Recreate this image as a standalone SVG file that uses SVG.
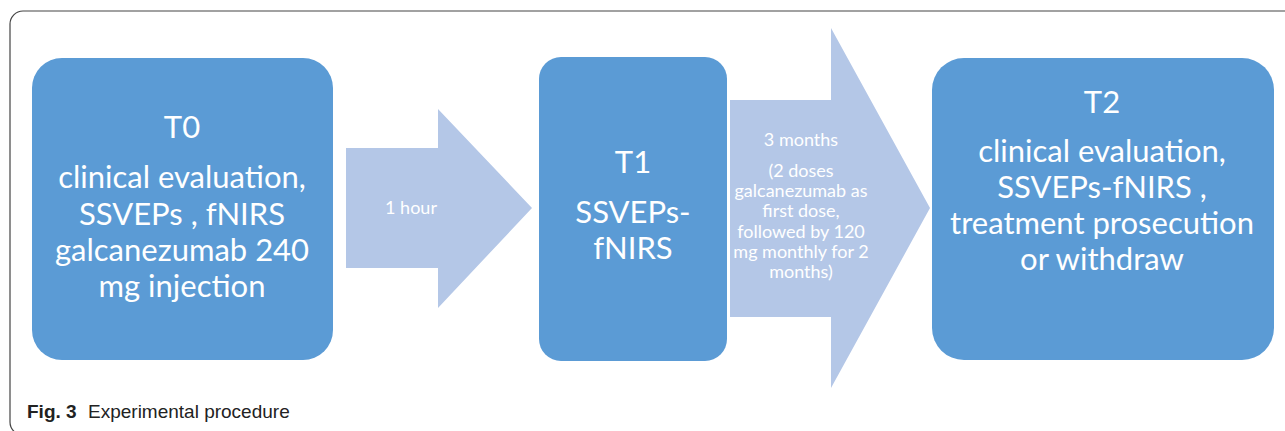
<svg xmlns="http://www.w3.org/2000/svg" width="1285" height="431" viewBox="0 0 1285 431">
<style>
.box{fill:#5B9BD5}
.arr{fill:#B4C7E7}
.bt{font-family:Lato,"Liberation Sans",sans-serif;font-size:31px;fill:#fff;text-anchor:middle}
.at{font-family:Lato,"Liberation Sans",sans-serif;font-size:18px;fill:#fff;text-anchor:middle}
.cap{font-family:"Liberation Sans",sans-serif;font-size:19px;fill:#222}
</style>
<rect x="10" y="11" width="1300" height="424" rx="13" fill="#fff" stroke="#444" stroke-width="1.2"/>
<g id="connectors">
<g id="arrow1">
<polygon class="arr" points="346,148 438,148 438,109 532,208 438,308 438,268 346,268"/>
<text class="at" x="411" y="214">1 hour</text>
</g>
<g id="arrow2">
<polygon class="arr" points="730,100 831,100 831,28 930,208 831,388 831,317 730,317"/>
<g class="at">
<text x="801" y="146">3 months</text>
<text x="801" y="177">(2 doses</text>
<text x="801" y="197">galcanezumab as</text>
<text x="801" y="217">first dose,</text>
<text x="801" y="238">followed by 120</text>
<text x="801" y="258">mg monthly for 2</text>
<text x="801" y="278">months)</text>
</g>
</g>
</g>
<g id="T0">
<rect class="box" x="32" y="58" width="301" height="302" rx="30"/>
<text class="bt" x="182" y="138">T0</text>
<text class="bt" x="182" y="188">clinical evaluation,</text>
<text class="bt" x="182" y="225">SSVEPs , fNIRS</text>
<text class="bt" x="182" y="261">galcanezumab 240</text>
<text class="bt" x="182" y="297">mg injection</text>
</g>
<g id="T1">
<rect class="box" x="539" y="57" width="188" height="304" rx="22"/>
<text class="bt" x="633" y="173">T1</text>
<text class="bt" x="633" y="223">SSVEPs-</text>
<text class="bt" x="633" y="259">fNIRS</text>
</g>
<g id="T2">
<rect class="box" x="932" y="58" width="342" height="302" rx="32"/>
<text class="bt" x="1102" y="113">T2</text>
<text class="bt" x="1102" y="162">clinical evaluation,</text>
<text class="bt" x="1102" y="198">SSVEPs-fNIRS ,</text>
<text class="bt" x="1102" y="234">treatment prosecution</text>
<text class="bt" x="1102" y="270">or withdraw</text>
</g>
<g id="caption">
<text class="cap" x="27" y="418"><tspan font-weight="bold">Fig. 3</tspan><tspan x="88">Experimental procedure</tspan></text>
</g>
</svg>
